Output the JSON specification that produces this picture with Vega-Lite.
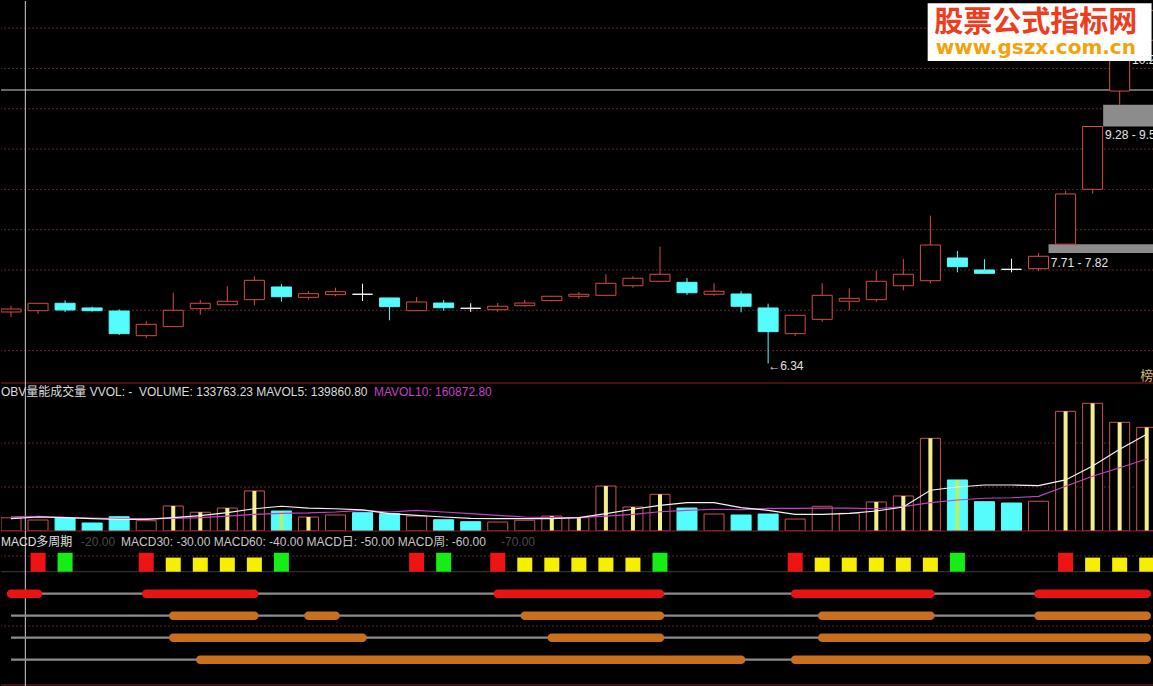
{
 "$schema": "https://vega.github.io/schema/vega-lite/v6.json",
 "background": "#000000",
 "padding": 0,
 "spacing": 0,
 "bounds": "flush",
 "config": {"view": {"stroke": null}, "scale": {"continuousPadding": 0}, "text": {"font": "Liberation Sans, Noto Sans CJK SC, sans-serif", "fontSize": 12}},
 "datasets": {
  "k": [
   {"i":0,"o":6.979,"c":7.016,"h":7.053,"l":6.917,"v":150000,"m5":140000,"m10":162000,"f":0},
   {"i":1,"o":6.995,"c":7.087,"h":7.09,"l":6.954,"v":125000,"m5":159000,"m10":167000,"f":0},
   {"i":2,"o":7.087,"c":7.004,"h":7.124,"l":6.979,"v":151000,"m5":151000,"m10":156000,"f":0},
   {"i":3,"o":7.029,"c":6.995,"h":7.045,"l":6.983,"v":91000,"m5":140000,"m10":148000,"f":0},
   {"i":4,"o":6.991,"c":6.71,"h":7.012,"l":6.694,"v":162000,"m5":133000,"m10":140000,"f":0},
   {"i":5,"o":6.685,"c":6.826,"h":6.867,"l":6.656,"v":117000,"m5":133000,"m10":140000,"f":0},
   {"i":6,"o":6.797,"c":7.0,"h":7.218,"l":6.797,"v":284000,"m5":151000,"m10":144000,"f":1},
   {"i":7,"o":7.02,"c":7.087,"h":7.128,"l":6.945,"v":213000,"m5":174000,"m10":151000,"f":1},
   {"i":8,"o":7.069,"c":7.112,"h":7.3,"l":7.069,"v":261000,"m5":208000,"m10":170000,"f":1},
   {"i":9,"o":7.132,"c":7.372,"h":7.422,"l":7.062,"v":455000,"m5":253000,"m10":190000,"f":1},
   {"i":10,"o":7.289,"c":7.169,"h":7.326,"l":7.107,"v":227000,"m5":281000,"m10":201000,"f":1},
   {"i":11,"o":7.161,"c":7.206,"h":7.236,"l":7.132,"v":159000,"m5":261000,"m10":205000,"f":1},
   {"i":12,"o":7.194,"c":7.231,"h":7.28,"l":7.174,"v":182000,"m5":253000,"m10":216000,"f":0},
   {"i":13,"o":7.199,"c":7.199,"h":7.33,"l":7.115,"v":208000,"m5":239000,"m10":235000,"f":0},
   {"i":14,"o":7.153,"c":7.045,"h":7.153,"l":6.876,"v":197000,"m5":197000,"m10":216000,"f":0},
   {"i":15,"o":6.995,"c":7.103,"h":7.165,"l":6.995,"v":170000,"m5":178000,"m10":235000,"f":0},
   {"i":16,"o":7.09,"c":7.032,"h":7.128,"l":6.995,"v":128000,"m5":159000,"m10":216000,"f":0},
   {"i":17,"o":7.025,"c":7.025,"h":7.087,"l":6.979,"v":106000,"m5":144000,"m10":197000,"f":0},
   {"i":18,"o":7.007,"c":7.05,"h":7.09,"l":6.983,"v":102000,"m5":140000,"m10":178000,"f":0},
   {"i":19,"o":7.057,"c":7.09,"h":7.128,"l":7.045,"v":122000,"m5":140000,"m10":159000,"f":0},
   {"i":20,"o":7.12,"c":7.174,"h":7.18,"l":7.11,"v":170000,"m5":140000,"m10":151000,"f":1},
   {"i":21,"o":7.174,"c":7.199,"h":7.227,"l":7.144,"v":151000,"m5":151000,"m10":151000,"f":1},
   {"i":22,"o":7.186,"c":7.335,"h":7.447,"l":7.174,"v":511000,"m5":197000,"m10":170000,"f":1},
   {"i":23,"o":7.305,"c":7.397,"h":7.422,"l":7.28,"v":273000,"m5":247000,"m10":190000,"f":1},
   {"i":24,"o":7.36,"c":7.447,"h":7.789,"l":7.36,"v":417000,"m5":292000,"m10":219000,"f":1},
   {"i":25,"o":7.347,"c":7.218,"h":7.4,"l":7.19,"v":261000,"m5":322000,"m10":235000,"f":0},
   {"i":26,"o":7.199,"c":7.236,"h":7.335,"l":7.181,"v":193000,"m5":322000,"m10":247000,"f":0},
   {"i":27,"o":7.202,"c":7.05,"h":7.236,"l":6.975,"v":182000,"m5":265000,"m10":242000,"f":0},
   {"i":28,"o":7.029,"c":6.735,"h":7.082,"l":6.34,"v":193000,"m5":235000,"m10":256000,"f":0},
   {"i":29,"o":6.71,"c":6.938,"h":6.938,"l":6.681,"v":136000,"m5":190000,"m10":258000,"f":0},
   {"i":30,"o":6.888,"c":7.186,"h":7.335,"l":6.855,"v":281000,"m5":190000,"m10":261000,"f":0},
   {"i":31,"o":7.112,"c":7.149,"h":7.273,"l":7.004,"v":201000,"m5":201000,"m10":261000,"f":0},
   {"i":32,"o":7.132,"c":7.36,"h":7.491,"l":7.107,"v":330000,"m5":227000,"m10":253000,"f":1},
   {"i":33,"o":7.305,"c":7.447,"h":7.636,"l":7.248,"v":398000,"m5":273000,"m10":276000,"f":1},
   {"i":34,"o":7.367,"c":7.81,"h":8.174,"l":7.335,"v":1053000,"m5":463000,"m10":322000,"f":1},
   {"i":35,"o":7.649,"c":7.541,"h":7.736,"l":7.471,"v":580000,"m5":500000,"m10":352000,"f":1},
   {"i":36,"o":7.5,"c":7.459,"h":7.633,"l":7.459,"v":333000,"m5":523000,"m10":372000,"f":0},
   {"i":37,"o":7.508,"c":7.508,"h":7.64,"l":7.471,"v":318000,"m5":523000,"m10":378000,"f":0},
   {"i":38,"o":7.516,"c":7.67,"h":7.71,"l":7.484,"v":338000,"m5":515000,"m10":394000,"f":0},
   {"i":39,"o":7.82,"c":8.443,"h":8.48,"l":7.82,"v":1360000,"m5":580000,"m10":508000,"f":1},
   {"i":40,"o":8.501,"c":9.28,"h":9.28,"l":8.447,"v":1451000,"m5":739000,"m10":622000,"f":1},
   {"i":41,"o":9.72,"c":10.2,"h":10.3,"l":9.55,"v":1235000,"m5":928000,"m10":719000,"f":1},
   {"i":42,"o":10.35,"c":10.72,"h":10.78,"l":10.32,"v":1178000,"m5":1099000,"m10":818000,"f":1}
  ],
  "sq": [
   {"i":1,"k":"R","v":-11.4},{"i":2,"k":"G","v":-11.4},{"i":5,"k":"R","v":-11.4},
   {"i":6,"k":"Y","v":-13.6},{"i":7,"k":"Y","v":-13.6},{"i":8,"k":"Y","v":-13.6},{"i":9,"k":"Y","v":-13.6},
   {"i":10,"k":"G","v":-11.4},{"i":15,"k":"R","v":-11.4},{"i":16,"k":"G","v":-11.4},{"i":18,"k":"R","v":-11.4},
   {"i":19,"k":"Y","v":-13.6},{"i":20,"k":"Y","v":-13.6},{"i":21,"k":"Y","v":-13.6},{"i":22,"k":"Y","v":-13.6},{"i":23,"k":"Y","v":-13.6},
   {"i":24,"k":"G","v":-11.4},{"i":29,"k":"R","v":-11.4},
   {"i":30,"k":"Y","v":-13.6},{"i":31,"k":"Y","v":-13.6},{"i":32,"k":"Y","v":-13.6},{"i":33,"k":"Y","v":-13.6},{"i":34,"k":"Y","v":-13.6},
   {"i":35,"k":"G","v":-11.4},{"i":39,"k":"R","v":-11.4},
   {"i":40,"k":"Y","v":-13.6},{"i":41,"k":"Y","v":-13.6},{"i":42,"k":"Y","v":-13.6}
  ],
  "seg": [
   {"lvl":-30,"s":0,"e":1},{"lvl":-30,"s":5,"e":9},{"lvl":-30,"s":18,"e":24},{"lvl":-30,"s":29,"e":34},{"lvl":-30,"s":38,"e":42},
   {"lvl":-40,"s":6,"e":9},{"lvl":-40,"s":11,"e":12},{"lvl":-40,"s":19,"e":24},{"lvl":-40,"s":30,"e":34},{"lvl":-40,"s":38,"e":42},
   {"lvl":-50,"s":6,"e":13},{"lvl":-50,"s":20,"e":24},{"lvl":-50,"s":30,"e":42},
   {"lvl":-60,"s":7,"e":27},{"lvl":-60,"s":29,"e":42}
  ]
 },
 "vconcat": [
  {
   "width": 1153, "height": 382,
   "data": {"name": "k"},
   "layer": [
    {"data": {"values": [{"g":6.5},{"g":7.0},{"g":7.5},{"g":8.0},{"g":8.5},{"g":9.0},{"g":9.5},{"g":10.0},{"g":10.5}]},
     "mark": {"type": "rule", "color": "#5e2626", "strokeDash": [2, 2], "strokeWidth": 1},
     "encoding": {"y": {"field": "g", "type": "quantitative", "scale": {"domain": [6.098, 10.837], "nice": false, "zero": false, "padding": 0}, "axis": null}}},
    {"data": {"values": [{}]}, "mark": {"type": "rule", "color": "#8a2222", "strokeWidth": 1},
     "encoding": {"y": {"datum": 6.098, "type": "quantitative", "scale": {"domain": [6.098, 10.837], "nice": false, "zero": false, "padding": 0}, "axis": null}}},
    {"data": {"values": [{}]}, "mark": {"type": "rule", "color": "#cfcfcf", "strokeWidth": 1},
     "encoding": {"y": {"datum": 9.733, "type": "quantitative", "scale": {"domain": [6.098, 10.837], "nice": false, "zero": false, "padding": 0}, "axis": null}}},
    {"data": {"values": [{}]}, "mark": {"type": "rule", "color": "#cfcfcf", "strokeWidth": 1},
     "encoding": {"x": {"datum": 0.53, "type": "quantitative", "scale": {"domain": [-0.37, 42.27], "nice": false, "zero": false, "padding": 0}, "axis": null}}},
    {"data": {"values": [{}]}, "mark": {"type": "rect", "fill": "#8c8c8c"},
     "encoding": {"x": {"datum": 38.37, "type": "quantitative", "scale": {"domain": [-0.37, 42.27], "nice": false, "zero": false, "padding": 0}, "axis": null}, "x2": {"datum": 42.27},
                  "y": {"datum": 7.71, "type": "quantitative", "scale": {"domain": [6.098, 10.837], "nice": false, "zero": false, "padding": 0}, "axis": null}, "y2": {"datum": 7.82}}},
    {"data": {"values": [{}]}, "mark": {"type": "rect", "fill": "#8c8c8c"},
     "encoding": {"x": {"datum": 40.39, "type": "quantitative", "scale": {"domain": [-0.37, 42.27], "nice": false, "zero": false, "padding": 0}, "axis": null}, "x2": {"datum": 42.27},
                  "y": {"datum": 9.28, "type": "quantitative", "scale": {"domain": [6.098, 10.837], "nice": false, "zero": false, "padding": 0}, "axis": null}, "y2": {"datum": 9.55}}},
    {"mark": {"type": "rule", "strokeWidth": 1, "clip": true},
     "encoding": {"x": {"field": "i", "type": "quantitative", "scale": {"domain": [-0.37, 42.27], "nice": false, "zero": false, "padding": 0}, "axis": null},
                  "y": {"field": "l", "type": "quantitative", "scale": {"domain": [6.098, 10.837], "nice": false, "zero": false, "padding": 0}, "axis": null},
                  "y2": {"field": "h"},
                  "color": {"condition": [{"test": "datum.c > datum.o", "value": "#d64b4b"}, {"test": "datum.c < datum.o", "value": "#54fcfc"}], "value": "#ffffff"}}},
    {"mark": {"type": "bar", "size": 20, "strokeWidth": 1, "clip": true},
     "encoding": {"x": {"field": "i", "type": "quantitative", "scale": {"domain": [-0.37, 42.27], "nice": false, "zero": false, "padding": 0}, "axis": null},
                  "y": {"field": "o", "type": "quantitative", "scale": {"domain": [6.098, 10.837], "nice": false, "zero": false, "padding": 0}, "axis": null},
                  "y2": {"field": "c"},
                  "fill": {"condition": [{"test": "datum.c > datum.o", "value": "#000000"}, {"test": "datum.c < datum.o", "value": "#54fcfc"}], "value": "#ffffff"},
                  "stroke": {"condition": [{"test": "datum.c > datum.o", "value": "#d64b4b"}, {"test": "datum.c < datum.o", "value": "#54fcfc"}], "value": "#ffffff"}}},
    {"data": {"values": [{}]}, "mark": {"type": "text", "align": "left", "baseline": "middle", "fill": "#e0e0e0", "fontSize": 12, "clip": true},
     "encoding": {"x": {"datum": 28, "type": "quantitative", "scale": {"domain": [-0.37, 42.27], "nice": false, "zero": false, "padding": 0}, "axis": null},
                  "y": {"datum": 6.31, "type": "quantitative", "scale": {"domain": [6.098, 10.837], "nice": false, "zero": false, "padding": 0}, "axis": null},
                  "text": {"value": "←6.34"}}},
    {"data": {"values": [{}]}, "mark": {"type": "text", "align": "left", "baseline": "middle", "fill": "#e6e6e6", "fontSize": 12, "clip": true},
     "encoding": {"x": {"datum": 38.45, "type": "quantitative", "scale": {"domain": [-0.37, 42.27], "nice": false, "zero": false, "padding": 0}, "axis": null},
                  "y": {"datum": 7.59, "type": "quantitative", "scale": {"domain": [6.098, 10.837], "nice": false, "zero": false, "padding": 0}, "axis": null},
                  "text": {"value": "7.71 - 7.82"}}},
    {"data": {"values": [{}]}, "mark": {"type": "text", "align": "left", "baseline": "middle", "fill": "#e6e6e6", "fontSize": 12, "clip": true},
     "encoding": {"x": {"datum": 40.46, "type": "quantitative", "scale": {"domain": [-0.37, 42.27], "nice": false, "zero": false, "padding": 0}, "axis": null},
                  "y": {"datum": 9.17, "type": "quantitative", "scale": {"domain": [6.098, 10.837], "nice": false, "zero": false, "padding": 0}, "axis": null},
                  "text": {"value": "9.28 - 9.55"}}},
    {"data": {"values": [{}]}, "mark": {"type": "text", "align": "left", "baseline": "middle", "fill": "#e6e6e6", "fontSize": 12, "clip": true},
     "encoding": {"x": {"datum": 41.46, "type": "quantitative", "scale": {"domain": [-0.37, 42.27], "nice": false, "zero": false, "padding": 0}, "axis": null},
                  "y": {"datum": 10.1, "type": "quantitative", "scale": {"domain": [6.098, 10.837], "nice": false, "zero": false, "padding": 0}, "axis": null},
                  "text": {"value": "10.29"}}},
    {"data": {"values": [{}]}, "mark": {"type": "text", "align": "center", "baseline": "middle", "fill": "#d8b878", "fontSize": 13, "font": "Noto Sans CJK SC", "clip": true},
     "encoding": {"x": {"datum": 42.0, "type": "quantitative", "scale": {"domain": [-0.37, 42.27], "nice": false, "zero": false, "padding": 0}, "axis": null},
                  "y": {"datum": 6.19, "type": "quantitative", "scale": {"domain": [6.098, 10.837], "nice": false, "zero": false, "padding": 0}, "axis": null},
                  "text": {"value": "榜"}}},
    {"data": {"values": [{}]}, "mark": {"type": "rect", "fill": "#ffffff"},
     "encoding": {"x": {"datum": 33.9, "type": "quantitative", "scale": {"domain": [-0.37, 42.27], "nice": false, "zero": false, "padding": 0}, "axis": null}, "x2": {"datum": 42.18},
                  "y": {"datum": 10.093, "type": "quantitative", "scale": {"domain": [6.098, 10.837], "nice": false, "zero": false, "padding": 0}, "axis": null}, "y2": {"datum": 10.81}}},
    {"data": {"values": [{}]}, "mark": {"type": "text", "align": "center", "baseline": "middle", "fill": "#f03c1c", "fontSize": 29, "fontWeight": "bold", "font": "Noto Sans CJK SC"},
     "encoding": {"x": {"datum": 37.9, "type": "quantitative", "scale": {"domain": [-0.37, 42.27], "nice": false, "zero": false, "padding": 0}, "axis": null},
                  "y": {"datum": 10.57, "type": "quantitative", "scale": {"domain": [6.098, 10.837], "nice": false, "zero": false, "padding": 0}, "axis": null},
                  "text": {"value": "股票公式指标网"}}},
    {"data": {"values": [{}]}, "mark": {"type": "text", "align": "center", "baseline": "middle", "fill": "#f5a20a", "fontSize": 20, "fontWeight": "bold", "font": "DejaVu Sans"},
     "encoding": {"x": {"datum": 37.9, "type": "quantitative", "scale": {"domain": [-0.37, 42.27], "nice": false, "zero": false, "padding": 0}, "axis": null},
                  "y": {"datum": 10.26, "type": "quantitative", "scale": {"domain": [6.098, 10.837], "nice": false, "zero": false, "padding": 0}, "axis": null},
                  "text": {"value": "www.gszx.com.cn"}}}
   ]
  },
  {
   "width": 1153, "height": 148,
   "data": {"name": "k"},
   "layer": [
    {"data": {"values": [{"g":500000},{"g":1000000}]},
     "mark": {"type": "rule", "color": "#5e2626", "strokeDash": [2, 2], "strokeWidth": 1},
     "encoding": {"y": {"field": "g", "type": "quantitative", "scale": {"domain": [0, 1681900], "nice": false, "zero": false, "padding": 0}, "axis": null}}},
    {"data": {"values": [{}]}, "mark": {"type": "rule", "color": "#cfcfcf", "strokeWidth": 1},
     "encoding": {"x": {"datum": 0.53, "type": "quantitative", "scale": {"domain": [-0.37, 42.27], "nice": false, "zero": false, "padding": 0}, "axis": null}}},
    {"mark": {"type": "bar", "size": 20, "strokeWidth": 1, "clip": true},
     "encoding": {"x": {"field": "i", "type": "quantitative", "scale": {"domain": [-0.37, 42.27], "nice": false, "zero": false, "padding": 0}, "axis": null},
                  "y": {"field": "v", "type": "quantitative", "scale": {"domain": [0, 1681900], "nice": false, "zero": false, "padding": 0}, "axis": null},
                  "y2": {"datum": 0},
                  "fill": {"condition": {"test": "datum.c > datum.o", "value": "#000000"}, "value": "#54fcfc"},
                  "stroke": {"condition": {"test": "datum.c > datum.o", "value": "#c85252"}, "value": "#54fcfc"}}},
    {"transform": [{"filter": "datum.f == 1"}],
     "mark": {"type": "bar", "size": 4, "clip": true},
     "encoding": {"x": {"field": "i", "type": "quantitative", "scale": {"domain": [-0.37, 42.27], "nice": false, "zero": false, "padding": 0}, "axis": null},
                  "y": {"field": "v", "type": "quantitative", "scale": {"domain": [0, 1681900], "nice": false, "zero": false, "padding": 0}, "axis": null},
                  "y2": {"datum": 0},
                  "fill": {"condition": {"test": "datum.c > datum.o", "value": "#f6ee88"}, "value": "#b4f070"}}},
    {"mark": {"type": "line", "color": "#c044c0", "strokeWidth": 1.2, "clip": true},
     "encoding": {"x": {"field": "i", "type": "quantitative", "scale": {"domain": [-0.37, 42.27], "nice": false, "zero": false, "padding": 0}, "axis": null},
                  "y": {"field": "m10", "type": "quantitative", "scale": {"domain": [0, 1681900], "nice": false, "zero": false, "padding": 0}, "axis": null}}},
    {"mark": {"type": "line", "color": "#f4f4f4", "strokeWidth": 1.2, "clip": true},
     "encoding": {"x": {"field": "i", "type": "quantitative", "scale": {"domain": [-0.37, 42.27], "nice": false, "zero": false, "padding": 0}, "axis": null},
                  "y": {"field": "m5", "type": "quantitative", "scale": {"domain": [0, 1681900], "nice": false, "zero": false, "padding": 0}, "axis": null}}},
    {"data": {"values": [{}]}, "mark": {"type": "rule", "color": "#8a2222", "strokeWidth": 1},
     "encoding": {"y": {"datum": 0, "type": "quantitative", "scale": {"domain": [0, 1681900], "nice": false, "zero": false, "padding": 0}, "axis": null}}},
    {"data": {"values": [{}]}, "mark": {"type": "text", "align": "left", "baseline": "middle", "fill": "#dcdcdc", "fontSize": 12},
     "encoding": {"x": {"datum": -0.37, "type": "quantitative", "scale": {"domain": [-0.37, 42.27], "nice": false, "zero": false, "padding": 0}, "axis": null},
                  "y": {"datum": 1580000, "type": "quantitative", "scale": {"domain": [0, 1681900], "nice": false, "zero": false, "padding": 0}, "axis": null},
                  "text": {"value": "OBV量能成交量 VVOL: -"}}},
    {"data": {"values": [{}]}, "mark": {"type": "text", "align": "left", "baseline": "middle", "fill": "#dcdcdc", "fontSize": 12},
     "encoding": {"x": {"datum": 4.73, "type": "quantitative", "scale": {"domain": [-0.37, 42.27], "nice": false, "zero": false, "padding": 0}, "axis": null},
                  "y": {"datum": 1580000, "type": "quantitative", "scale": {"domain": [0, 1681900], "nice": false, "zero": false, "padding": 0}, "axis": null},
                  "text": {"value": "VOLUME: 133763.23  MAVOL5: 139860.80"}}},
    {"data": {"values": [{}]}, "mark": {"type": "text", "align": "left", "baseline": "middle", "fill": "#c044c0", "fontSize": 12},
     "encoding": {"x": {"datum": 13.42, "type": "quantitative", "scale": {"domain": [-0.37, 42.27], "nice": false, "zero": false, "padding": 0}, "axis": null},
                  "y": {"datum": 1580000, "type": "quantitative", "scale": {"domain": [0, 1681900], "nice": false, "zero": false, "padding": 0}, "axis": null},
                  "text": {"value": "MAVOL10: 160872.80"}}}
   ]
  },
  {
   "width": 1153, "height": 156,
   "data": {"name": "sq"},
   "layer": [
    {"data": {"values": [{"g":-12.86},{"g":-44.7}]},
     "mark": {"type": "rule", "color": "#5e2626", "strokeDash": [2, 2], "strokeWidth": 1},
     "encoding": {"y": {"field": "g", "type": "quantitative", "scale": {"domain": [-72.41, -1.5], "nice": false, "zero": false, "padding": 0}, "axis": null}}},
    {"data": {"values": [{}]}, "mark": {"type": "rule", "color": "#3c3c3c", "strokeWidth": 1},
     "encoding": {"y": {"datum": -20, "type": "quantitative", "scale": {"domain": [-72.41, -1.5], "nice": false, "zero": false, "padding": 0}, "axis": null}}},
    {"data": {"values": [{}]}, "mark": {"type": "rule", "color": "#8a2222", "strokeWidth": 1},
     "encoding": {"y": {"datum": -71.5, "type": "quantitative", "scale": {"domain": [-72.41, -1.5], "nice": false, "zero": false, "padding": 0}, "axis": null}}},
    {"data": {"values": [{}]}, "mark": {"type": "rule", "color": "#cfcfcf", "strokeWidth": 1},
     "encoding": {"x": {"datum": 0.53, "type": "quantitative", "scale": {"domain": [-0.37, 42.27], "nice": false, "zero": false, "padding": 0}, "axis": null}}},
    {"mark": {"type": "bar", "size": 15, "clip": true},
     "encoding": {"x": {"field": "i", "type": "quantitative", "scale": {"domain": [-0.37, 42.27], "nice": false, "zero": false, "padding": 0}, "axis": null},
                  "y": {"field": "v", "type": "quantitative", "scale": {"domain": [-72.41, -1.5], "nice": false, "zero": false, "padding": 0}, "axis": null},
                  "y2": {"datum": -20},
                  "fill": {"condition": [{"test": "datum.k == 'R'", "value": "#ee1414"}, {"test": "datum.k == 'G'", "value": "#14ee14"}], "value": "#f6f000"}}},
    {"data": {"values": [{"lvl":-30},{"lvl":-40},{"lvl":-50},{"lvl":-60}]},
     "mark": {"type": "rule", "color": "#8c8c8c", "strokeWidth": 2.2},
     "encoding": {"x": {"datum": 0, "type": "quantitative", "scale": {"domain": [-0.37, 42.27], "nice": false, "zero": false, "padding": 0}, "axis": null}, "x2": {"datum": 42},
                  "y": {"field": "lvl", "type": "quantitative", "scale": {"domain": [-72.41, -1.5], "nice": false, "zero": false, "padding": 0}, "axis": null}}},
    {"data": {"name": "seg"},
     "mark": {"type": "rule", "strokeWidth": 8.5, "strokeCap": "round"},
     "encoding": {"x": {"field": "s", "type": "quantitative", "scale": {"domain": [-0.37, 42.27], "nice": false, "zero": false, "padding": 0}, "axis": null}, "x2": {"field": "e"},
                  "y": {"field": "lvl", "type": "quantitative", "scale": {"domain": [-72.41, -1.5], "nice": false, "zero": false, "padding": 0}, "axis": null},
                  "color": {"condition": {"test": "datum.lvl == -30", "value": "#e61414"}, "value": "#c8701e"}}},
    {"data": {"values": [{}]}, "mark": {"type": "text", "align": "left", "baseline": "middle", "fill": "#e0e0e0", "fontSize": 12},
     "encoding": {"x": {"datum": -0.37, "type": "quantitative", "scale": {"domain": [-0.37, 42.27], "nice": false, "zero": false, "padding": 0}, "axis": null},
                  "y": {"datum": -6.5, "type": "quantitative", "scale": {"domain": [-72.41, -1.5], "nice": false, "zero": false, "padding": 0}, "axis": null},
                  "text": {"value": "MACD多周期"}}},
    {"data": {"values": [{}]}, "mark": {"type": "text", "align": "left", "baseline": "middle", "fill": "#4a4a4a", "fontSize": 12},
     "encoding": {"x": {"datum": 2.59, "type": "quantitative", "scale": {"domain": [-0.37, 42.27], "nice": false, "zero": false, "padding": 0}, "axis": null},
                  "y": {"datum": -6.5, "type": "quantitative", "scale": {"domain": [-72.41, -1.5], "nice": false, "zero": false, "padding": 0}, "axis": null},
                  "text": {"value": "-20.00"}}},
    {"data": {"values": [{}]}, "mark": {"type": "text", "align": "left", "baseline": "middle", "fill": "#c8c8c8", "fontSize": 12},
     "encoding": {"x": {"datum": 4.07, "type": "quantitative", "scale": {"domain": [-0.37, 42.27], "nice": false, "zero": false, "padding": 0}, "axis": null},
                  "y": {"datum": -6.5, "type": "quantitative", "scale": {"domain": [-72.41, -1.5], "nice": false, "zero": false, "padding": 0}, "axis": null},
                  "text": {"value": "MACD30: -30.00 MACD60: -40.00 MACD日: -50.00 MACD周: -60.00"}}},
    {"data": {"values": [{}]}, "mark": {"type": "text", "align": "left", "baseline": "middle", "fill": "#4a4a4a", "fontSize": 12},
     "encoding": {"x": {"datum": 18.12, "type": "quantitative", "scale": {"domain": [-0.37, 42.27], "nice": false, "zero": false, "padding": 0}, "axis": null},
                  "y": {"datum": -6.5, "type": "quantitative", "scale": {"domain": [-72.41, -1.5], "nice": false, "zero": false, "padding": 0}, "axis": null},
                  "text": {"value": "-70.00"}}}
   ]
  }
 ]
}
